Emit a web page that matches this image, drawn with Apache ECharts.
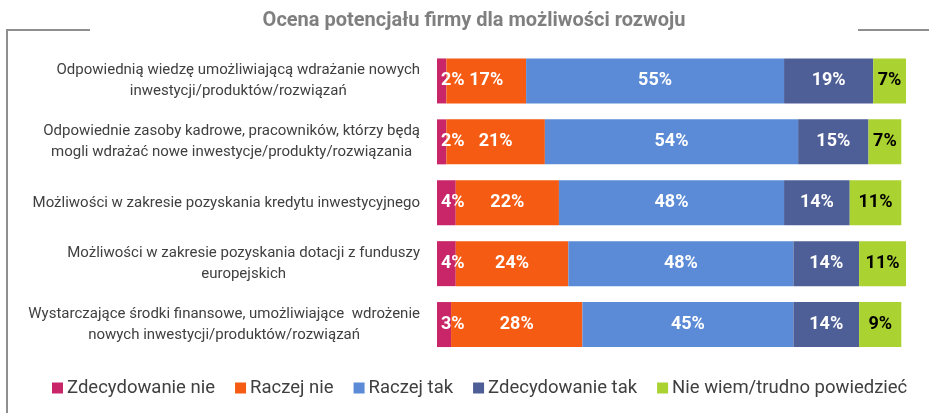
<!DOCTYPE html>
<html>
<head>
<meta charset="utf-8">
<script src="https://cdn.jsdelivr.net/npm/echarts@6/dist/echarts.min.js"></script>
<style>
  html, body { margin: 0; padding: 0; background: #ffffff; }
  #chart { width: 929px; height: 413px; }
</style>
</head>
<body>
<div id="chart"></div>
<script>
// Survey answers, percent of respondents per statement
const categories = [
  'Odpowiednią wiedzę umożliwiającą wdrażanie nowych\ninwestycji/produktów/rozwiązań',
  'Odpowiednie zasoby kadrowe, pracowników, którzy będą\nmogli wdrażać nowe inwestycje/produkty/rozwiązania',
  'Możliwości w zakresie pozyskania kredytu inwestycyjnego',
  'Możliwości w zakresie pozyskania dotacji z funduszy\neuropejskich',
  'Wystarczające środki finansowe, umożliwiające  wdrożenie\nnowych inwestycji/produktów/rozwiązań'
];
const seriesNames = ['Zdecydowanie nie', 'Raczej nie', 'Raczej tak', 'Zdecydowanie tak', 'Nie wiem/trudno powiedzieć'];
const zdecydowanieNie = [2, 2, 4, 4, 3];
const raczejNie = [17, 21, 22, 24, 28];
const raczejTak = [55, 54, 48, 48, 45];
const zdecydowanieTak = [19, 15, 14, 14, 14];
const nieWiem = [7, 7, 11, 11, 9];
const chartTitle = 'Ocena potencjału firmy dla możliwości rozwoju';

const seriesValues = [zdecydowanieNie, raczejNie, raczejTak, zdecydowanieTak, nieWiem];
const colors = ['#C9266A', '#F55B12', '#5B8BD6', '#4E5F97', '#AAD231'];
const labelColors = ['#ffffff', '#ffffff', '#ffffff', '#ffffff', '#000000'];
const FONT = 'Roboto, "Noto Sans", sans-serif';

const chart = echarts.init(document.getElementById('chart'), null, { renderer: 'canvas' });

const series = seriesNames.map((name, i) => ({
  name: name,
  type: 'bar',
  stack: 'total',
  barWidth: 45,
  data: seriesValues[i],
  itemStyle: { color: colors[i] },
  label: {
    show: true,
    position: i === 0 ? 'insideLeft' : 'inside',
    distance: 4,
    formatter: '{c}%',
    color: labelColors[i],
    fontFamily: FONT,
    fontWeight: 'bold',
    fontSize: 18
  },
  emphasis: { disabled: true }
}));

chart.setOption({
  animation: false,
  backgroundColor: '#ffffff',
  grid: { left: 437, right: 23, top: 50.5, height: 304.5 },
  xAxis: { type: 'value', min: 0, max: 100, show: false },
  yAxis: {
    type: 'category',
    data: categories,
    inverse: true,
    axisLine: { show: false },
    axisTick: { show: false },
    splitLine: { show: false },
    axisLabel: {
      margin: 17,
      // each line centred inside a right-aligned block
      formatter: v => v.split('\n').map(s => '{l|' + s + '}').join('\n'),
      rich: {
        l: { align: 'center', fontFamily: FONT, fontSize: 15, color: '#404040', lineHeight: 21 }
      }
    }
  },
  legend: {
    data: seriesNames,
    left: 47,
    top: 373,
    itemWidth: 11,
    itemHeight: 11,
    itemGap: 20,
    icon: 'rect',
    textStyle: { fontFamily: FONT, fontSize: 18.5, color: '#404040', lineHeight: 20, padding: [0, 0, 0, -1] }
  },
  graphic: [
    // panel frame, broken where the heading sits
    { type: 'line', shape: { x1: 7, y1: 30, x2: 90, y2: 30 }, style: { stroke: '#8F8F8F', lineWidth: 2 } },
    { type: 'line', shape: { x1: 7, y1: 29, x2: 7, y2: 413 }, style: { stroke: '#8F8F8F', lineWidth: 2 } },
    { type: 'line', shape: { x1: 858, y1: 30, x2: 929, y2: 30 }, style: { stroke: '#8F8F8F', lineWidth: 2 } },
    {
      type: 'text',
      x: 474,
      y: 21,
      style: {
        text: chartTitle,
        fill: '#7F7F7F',
        font: 'bold 20px ' + FONT,
        textAlign: 'center',
        textVerticalAlign: 'middle'
      }
    }
  ],
  series: series
});
</script>
</body>
</html>
